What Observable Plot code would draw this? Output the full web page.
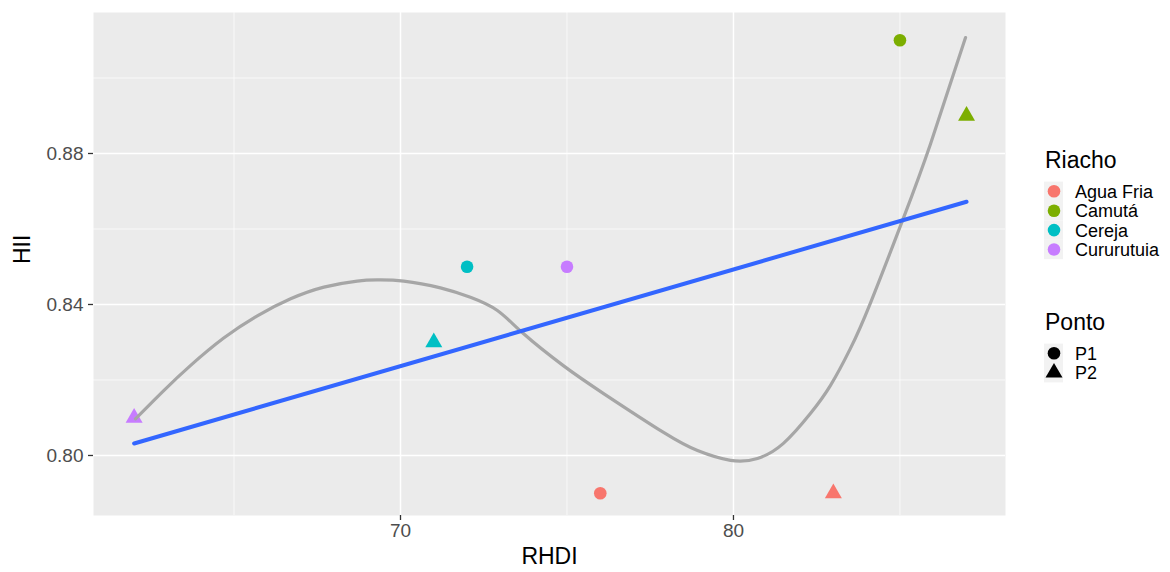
<!DOCTYPE html>
<html><head><meta charset="utf-8">
<script src="https://cdn.jsdelivr.net/npm/d3@7"></script>
<script src="https://cdn.jsdelivr.net/npm/@observablehq/plot@0.6"></script>
<style>
body{margin:0;background:#fff;font-family:"Liberation Sans",Arial,sans-serif;}
#wrap{position:relative;width:1170px;height:572px;overflow:hidden;}
#legend{position:absolute;left:0;top:0;pointer-events:none;}
</style></head><body>
<div id="wrap"><div id="chart"></div><svg id="legend" width="1170" height="572"></svg></div>
<script>
// Data
const rhdi   = [62, 71, 72, 75, 76, 83, 85, 87];
const hii    = [0.81, 0.83, 0.85, 0.85, 0.79, 0.79, 0.91, 0.89];
const riacho = ["Cururutuia", "Cereja", "Cereja", "Cururutuia", "Agua Fria", "Agua Fria", "Camutá", "Camutá"];
const ponto  = ["P2", "P2", "P1", "P1", "P1", "P2", "P1", "P2"];

const riachoLevels = ["Agua Fria", "Camutá", "Cereja", "Cururutuia"];
const riachoColors = ["#F8766D", "#7CAE00", "#00BFC4", "#C77CFF"];
const pontoLevels  = ["P1", "P2"];
const pontoSymbols = ["circle", "triangle"];

// grey smooth curve
const smoothX = [62.04, 62.89, 63.69, 64.69, 65.70, 66.70, 67.70, 68.70, 69.30, 70.10, 71.20, 72.10, 72.91, 73.69, 74.89, 76.10, 77.90, 78.92, 79.91, 80.72, 81.50, 82.31, 82.91, 83.51, 84.11, 85.11, 85.92, 86.97];
const smoothY = [0.8097, 0.8172, 0.8238, 0.8311, 0.8370, 0.8415, 0.8446, 0.8462, 0.8465, 0.8462, 0.8444, 0.8419, 0.8384, 0.8323, 0.8238, 0.8164, 0.8061, 0.8013, 0.7987, 0.7992, 0.8032, 0.8111, 0.8185, 0.8283, 0.8403, 0.8630, 0.8826, 0.9107];

const xMajor = [70, 80];
const xMinor = [65, 75, 85];
const yMajor = [0.80, 0.84, 0.88];
const yMinor = [0.82, 0.86, 0.90];

const points = rhdi.map((x, i) => ({x, y: hii[i], riacho: riacho[i], ponto: ponto[i]}));
const smooth = smoothX.map((x, i) => ({x, y: smoothY[i]}));

const font = '"Liberation Sans", Arial, sans-serif';

const chart = Plot.plot({
  width: 1170, height: 572,
  marginLeft: 93, marginRight: 165, marginTop: 12, marginBottom: 57,
  style: {fontFamily: font, background: "white", overflow: "visible"},
  x: {domain: [60.78, 88.17]},
  y: {domain: [0.7841, 0.91735]},
  color: {domain: riachoLevels, range: riachoColors},
  symbol: {domain: pontoLevels, range: pontoSymbols},
  marks: [
    Plot.frame({fill: "#EBEBEB", stroke: null}),
    Plot.gridX(xMinor, {stroke: "white", strokeOpacity: 1, strokeWidth: 0.7}),
    Plot.gridY(yMinor, {stroke: "white", strokeOpacity: 1, strokeWidth: 0.7}),
    Plot.gridX(xMajor, {stroke: "white", strokeOpacity: 1, strokeWidth: 1.5}),
    Plot.gridY(yMajor, {stroke: "white", strokeOpacity: 1, strokeWidth: 1.5}),
    Plot.axisX(xMajor, {tickSize: 5, tickPadding: 3, fontSize: 19, stroke: "#333333", strokeWidth: 1.3, fill: "#4D4D4D", label: null, tickFormat: d => String(d)}),
    Plot.axisY(yMajor, {tickSize: 5, tickPadding: 5, fontSize: 19, stroke: "#333333", strokeWidth: 1.3, fill: "#4D4D4D", label: null, tickFormat: d3.format(".2f")}),
    Plot.text(["RHDI"], {frameAnchor: "bottom", dy: 48, fontSize: 23, fill: "black"}),
    Plot.text(["HII"], {frameAnchor: "left", dx: -71, rotate: -90, fontSize: 23, fill: "black"}),
    Plot.dot(points, {x: "x", y: "y", fill: "riacho", symbol: "ponto", r: 6.3, stroke: null}),
    Plot.line(smooth, {x: "x", y: "y", stroke: "#A6A6A6", strokeWidth: 3.2, curve: "natural"}),
    Plot.linearRegressionY(points, {x: "x", y: "y", stroke: "#3366FF", strokeWidth: 4, ci: 0})
  ]
});
document.getElementById("chart").appendChild(chart);

// Legend
const lg = d3.select("#legend").style("font-family", font);
lg.append("text").attr("x", 1045).attr("y", 168).attr("font-size", 23).attr("fill", "black").text("Riacho");
riachoLevels.forEach((lv, i) => {
  const cy = 191.3 + i * 19.4;
  lg.append("rect").attr("x", 1044).attr("y", cy - 9.7).attr("width", 19).attr("height", 19.4).attr("fill", "#F2F2F2");
  lg.append("circle").attr("cx", 1054).attr("cy", cy).attr("r", 6.3).attr("fill", riachoColors[i]);
  lg.append("text").attr("x", 1075).attr("y", cy).attr("dy", "0.36em").attr("font-size", 18).attr("fill", "black").text(lv);
});
lg.append("text").attr("x", 1045).attr("y", 330).attr("font-size", 23).attr("fill", "black").text("Ponto");
pontoLevels.forEach((lv, i) => {
  const cy = 353.3 + i * 19.4;
  lg.append("rect").attr("x", 1044).attr("y", cy - 9.7).attr("width", 19).attr("height", 19.4).attr("fill", "#F2F2F2");
  const sym = pontoSymbols[i] === "circle" ? d3.symbolCircle : d3.symbolTriangle;
  lg.append("path").attr("transform", `translate(1054,${cy})`).attr("d", d3.symbol(sym, Math.PI * 6.3 * 6.3)()).attr("fill", "black");
  lg.append("text").attr("x", 1075).attr("y", cy).attr("dy", "0.36em").attr("font-size", 18).attr("fill", "black").text(lv);
});
</script>
</body></html>
